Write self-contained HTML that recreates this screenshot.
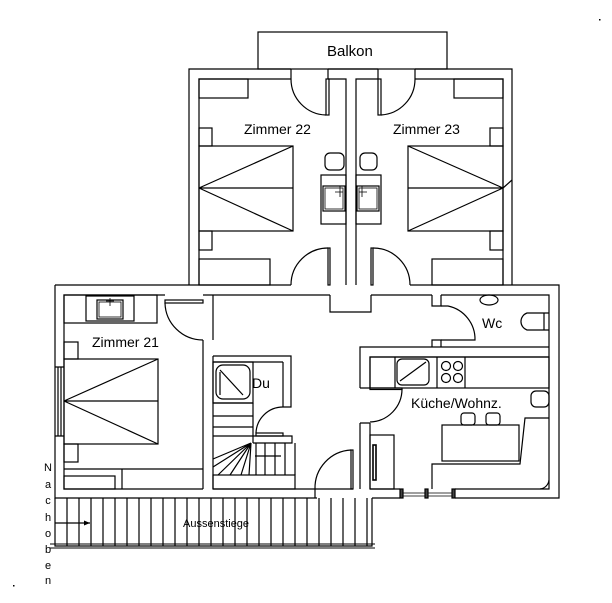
<!DOCTYPE html>
<html><head><meta charset="utf-8"><style>
html,body{margin:0;padding:0;background:#fff}
svg{display:block}
text{font-family:"Liberation Sans",sans-serif;fill:#000}
</style></head><body>
<svg width="612" height="603" viewBox="0 0 612 603" xmlns="http://www.w3.org/2000/svg">
<g fill="none" stroke="#000" stroke-width="1.2">
<rect x="258" y="32" width="189" height="37"/>
<path d="M189 285 V69 H291 M328 69 H378 M415 69 H512 V285"/>
<path d="M199 285 V79 H291 M328 79 H346 V285 M356 285 V79 H378 M415 79 H503 V285"/>
<path d="M328 69 V79 M378 69 V79 M291 69 V79 M415 69 V79"/>
<rect x="326" y="79" width="3" height="36"/>
<path d="M291 79 A36 36 0 0 0 326 115"/>
<rect x="378" y="79" width="3" height="36"/>
<path d="M415 79 A36 36 0 0 1 381 115"/>
<rect x="199" y="79" width="49" height="19"/>
<rect x="199" y="128" width="13" height="18"/>
<rect x="199" y="146" width="94" height="85"/>
<path d="M199 188 H293 M199 188 L293 146 M199 188 L293 231"/>
<rect x="199" y="231" width="13" height="19"/>
<rect x="199" y="259" width="71" height="26"/>
<rect x="454" y="79" width="49" height="19"/>
<rect x="490" y="128" width="13" height="18"/>
<rect x="408" y="146" width="95" height="85"/>
<path d="M408 188 H503 M503 188 L408 146 M503 188 L408 231 M503 188 L512 180"/>
<rect x="490" y="231" width="13" height="19"/>
<rect x="432" y="259" width="71" height="26"/>
<rect x="321" y="175" width="25" height="49"/>
<rect x="323" y="186" width="22" height="25"/>
<rect x="325" y="188" width="18" height="21" stroke-width="0.8"/>
<path d="M340 186 V197 M335 192 H343" stroke-width="0.8"/>
<rect x="356" y="175" width="25" height="49"/>
<rect x="357" y="186" width="22" height="25"/>
<rect x="359" y="188" width="18" height="21" stroke-width="0.8"/>
<path d="M362 186 V197 M359 192 H367" stroke-width="0.8"/>
<rect x="325" y="153" width="19" height="17" rx="5"/>
<rect x="360" y="153" width="17" height="17" rx="5"/>
<rect x="328" y="248" width="2" height="37"/>
<path d="M328 248 A37 37 0 0 0 291 285"/>
<rect x="371" y="248" width="2" height="37"/>
<path d="M373 248 A37 37 0 0 1 410 285"/>
<path d="M55 285 H291 M410 285 H559 V498 H455 M400 498 H372 M317 498 H55 V285"/>
<path d="M64 467 V295 H165 M203 295 H330 M371 295 H432 M441 295 H549 V489 H455 M400 489 H370 M353 489 H213 M203 489 H64 V467"/>
<path d="M330 295 V312 H371 V295"/>
<path d="M55 367 H64 M55 436 H64 M58 367 V436 M61 367 V436"/>
<path d="M203 340 V489 M213 489 V356 M213 340 V295"/>
<rect x="165" y="300" width="38" height="3"/>
<path d="M165 303 A38 38 0 0 0 203 340"/>
<rect x="64" y="295" width="93" height="28"/>
<rect x="86" y="296" width="48" height="25"/>
<rect x="97" y="300" width="26" height="19"/>
<rect x="99" y="302" width="22" height="15" stroke-width="0.8"/>
<path d="M110 298 V306 M106 301 H114" stroke-width="0.8"/>
<rect x="64" y="342" width="14" height="17"/>
<rect x="64" y="359" width="94" height="85"/>
<path d="M64 401 H158 M64 401 L158 359 M64 401 L158 444"/>
<rect x="64" y="444" width="14" height="18"/>
<path d="M64 469 H122 V489 M122 469 H203"/>
<rect x="64" y="476" width="51" height="13"/>
<path d="M213 356 H291 V407 H283 M283 362 V407 M213 362 H283"/>
<rect x="213" y="362" width="40" height="41"/>
<rect x="216" y="365" width="34" height="34" rx="7"/>
<path d="M220 370 L243 395 M220 372 V395"/>
<path d="M253 403 V443 M213 403 H253 M213 416 H253 M213 427 H253 M213 436 H253"/>
<rect x="256" y="433" width="27" height="3"/>
<path d="M256 433 A27 27 0 0 1 283 407"/>
<path d="M253 436 H292 V443 H253"/>
<path d="M256 443 V475 M265 443 V475 M275 443 V475 M285 443 V475 M295 443 V475 M255 456 H281"/>
<path d="M251 443 L213 459 M251 443 L213 467 M251 443 L218 475 M251 443 L230 475 M251 443 L241 475 M251 443 L249 475"/>
<rect x="213" y="475" width="82" height="14"/>
<rect x="351" y="450" width="2" height="39"/>
<path d="M351 450 A38 38 0 0 0 315 489 V498"/>
<path d="M432 295 V306 H441 V295 M432 347 V340 H441 V347"/>
<path d="M441 306 H448 A34 34 0 0 1 475 340 H441"/>
<ellipse cx="489" cy="300" rx="9" ry="5"/>
<path d="M549 313 H527 A9 9 0 0 0 527 330 H549 M544 313 V330"/>
<path d="M360 489 V423 M370 489 V423 M360 388 V347 H549 M360 388 H370 M360 423 H370 M370 388 V357 H549"/>
<rect x="370" y="388" width="32" height="1.5"/>
<path d="M402 389 A33 33 0 0 1 370 422"/>
<rect x="370" y="357" width="179" height="31"/>
<path d="M395 357 V388 M437 357 V388 M465 357 V388"/>
<rect x="397" y="359" width="32" height="26" rx="5"/>
<path d="M400 381 L426 362"/>
<circle cx="446" cy="366" r="4.5"/><circle cx="458" cy="366" r="4.5"/>
<circle cx="446" cy="378" r="4.5"/><circle cx="458" cy="378" r="4.5"/>
<rect x="531" y="391" width="18" height="16" rx="5"/>
<rect x="442" y="425" width="77" height="36"/>
<rect x="461" y="413" width="14" height="12" rx="3"/>
<rect x="486" y="413" width="14" height="12" rx="3"/>
<path d="M432 489 V464 H520 L525 418 H549 M549 480 A10 10 0 0 1 540 489"/>
<rect x="370" y="435" width="24" height="54"/>
<rect x="373" y="445" width="3" height="35" stroke-width="1.6"/>
<path d="M400 493 H455 M400 496 H455" stroke-width="0.8"/>
<rect x="400" y="489" width="3" height="9" fill="#444"/>
<rect x="425" y="489" width="3" height="9" fill="#444"/>
<rect x="452" y="489" width="3" height="9" fill="#444"/>
<path d="M55 498 V546 H372 V498"/>
<path d="M50 544 H375 M50 548 H375" stroke-width="1"/>
<path d="M67 498V546M79 498V546M91 498V546M103 498V546M115 498V546M127 498V546M139 498V546M151 498V546M163 498V546M175 498V546M187 498V546M199 498V546M211 498V546M223 498V546M235 498V546M247 498V546M259 498V546M271 498V546M283 498V546M295 498V546M307 498V546M319 498V546M331 498V546M343 498V546M355 498V546M367 498V546"/>
<path d="M55 523 H90"/>
</g>
<path d="M90 523 L84 520.5 V525.5 Z" fill="#000"/>
<rect x="599" y="19" width="1.5" height="1.5" fill="#000"/>
<rect x="13" y="585" width="1.5" height="1.5" fill="#000"/>
<text x="327" y="56" font-size="15">Balkon</text>
<text x="244" y="134" font-size="14">Zimmer 22</text>
<text x="393" y="134" font-size="14">Zimmer 23</text>
<text x="92" y="347" font-size="14">Zimmer 21</text>
<text x="252" y="388" font-size="14">Du</text>
<text x="482" y="328" font-size="14">Wc</text>
<text x="411" y="408" font-size="14">Küche/Wohnz.</text>
<text x="183" y="527" font-size="11">Aussenstiege</text>
<g font-size="11" text-anchor="middle">
<text x="48" y="471">N</text><text x="48" y="488">a</text><text x="48" y="504">c</text><text x="48" y="521">h</text><text x="48" y="537">o</text><text x="48" y="553">b</text><text x="48" y="569">e</text><text x="48" y="584">n</text>
</g>
</svg>
</body></html>
